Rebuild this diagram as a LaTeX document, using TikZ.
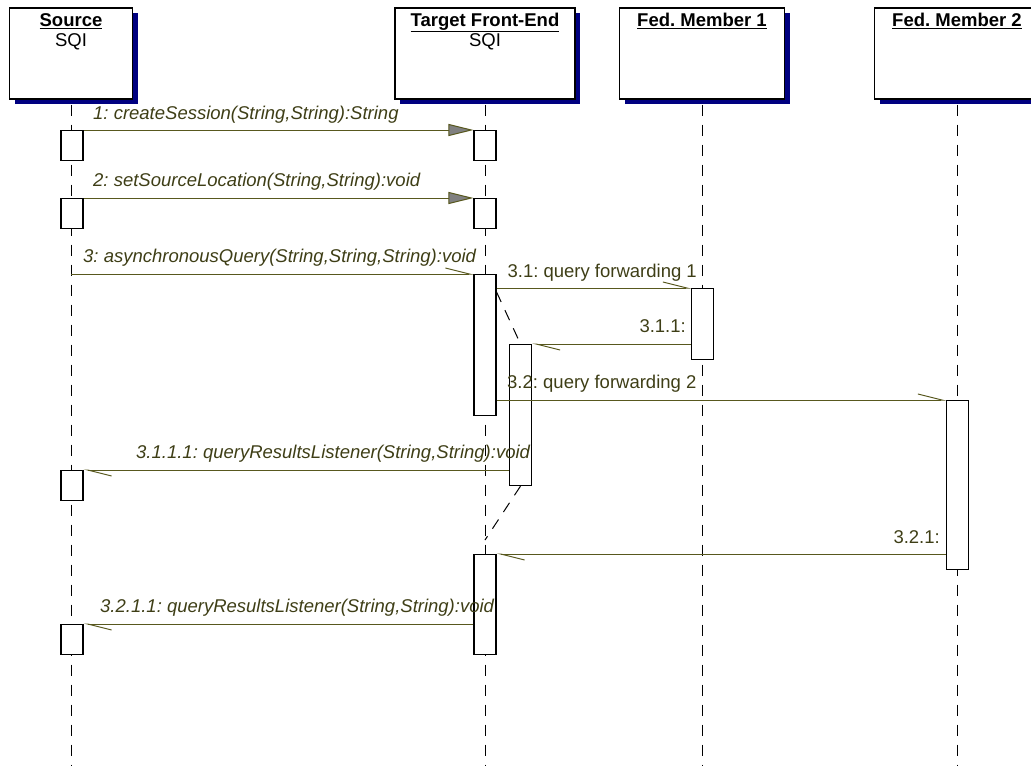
\documentclass[tikz,border=0pt]{standalone}
\usepackage{fontspec}
\setmainfont{Liberation Sans}
\usepackage{tikz}
\usetikzlibrary{arrows.meta}
\usetikzlibrary{shadows}
\definecolor{msgline}{RGB}{88,88,30}
\definecolor{msgtext}{RGB}{62,62,22}
\definecolor{shadownavy}{RGB}{0,0,128}
\definecolor{tipgray}{RGB}{128,128,128}
\newcommand{\umlfont}{\fontsize{18.5}{22}\selectfont}
\frenchspacing

\begin{document}
\begin{tikzpicture}[x=1pt,y=-1pt,
	obj/.style={rectangle, draw, line width=1.4pt, fill=white, minimum height=91pt, inner sep=0pt,
		drop shadow={shadow xshift=5pt, shadow yshift=-5pt, fill=shadownavy, opacity=1}},
	act/.style={rectangle, draw, line width=1.1pt, fill=white, minimum width=22pt, inner sep=0pt, anchor=north},
	life/.style={line width=1pt, dash pattern=on 11pt off 9pt},
	sync/.style={msgline, line width=1pt, -{Triangle[length=25pt,width=12pt,fill=tipgray]}},
	async/.style={msgline, line width=1pt, -{Straight Barb[left,length=24pt,width=12pt]}},
	hdr/.style={anchor=base, inner sep=0pt, font=\umlfont},
	lbl/.style={anchor=base west, inner sep=0pt, text=msgtext, font=\umlfont\itshape},
	rlbl/.style={anchor=base east, inner sep=0pt, text=msgtext, font=\umlfont}]
	\useasboundingbox (0,0) rectangle (1031,766);
	
	% Objects
	\node[obj, minimum width=123pt] (src) at (71,53.5) {};
	\node[obj, minimum width=180pt] (tfe) at (485,53.5) {};
	\node[obj, minimum width=165pt] (fm1) at (702,53.5) {};
	\node[obj, minimum width=165pt] (fm2) at (957,53.5) {};
	
	\node[hdr] (srcname) at ([yshift=-19pt]src.north) {\underline{\textbf{Source}}};
	\node[hdr] (srcsqi) at ([yshift=-39pt]src.north) {SQI};
	\node[hdr] (tfename) at ([yshift=-19pt]tfe.north) {\underline{\textbf{Target Front-End}}};
	\node[hdr] (tfesqi) at ([yshift=-39pt]tfe.north) {SQI};
	\node[hdr] (fm1name) at ([yshift=-19pt]fm1.north) {\underline{\textbf{Fed. Member 1}}};
	\node[hdr] (fm2name) at ([yshift=-19pt]fm2.north) {\underline{\textbf{Fed. Member 2}}};
	
	% Lifelines
	\coordinate (bottom) at (0,766);
	\draw[life] ([yshift=-5pt]src.south) -- (src.south |- bottom);
	\draw[life] ([yshift=-5pt]tfe.south) -- (tfe.south |- bottom);
	\draw[life] ([yshift=-5pt]fm1.south) -- (fm1.south |- bottom);
	\draw[life] ([yshift=-5pt]fm2.south) -- (fm2.south |- bottom);
	
	% Activations
	\node[act, minimum height=30pt] (s1) at (72,130) {};
	\node[act, minimum height=30pt] (t1) at (485,130) {};
	\node[act, minimum height=30pt] (s2) at (72,198) {};
	\node[act, minimum height=30pt] (t2) at (485,198) {};
	\node[act, minimum height=141pt] (t3) at (485,274) {};
	\node[act, minimum height=71pt] (f1) at (702.5,288) {};
	\node[act, minimum height=141pt] (t4) at (520.5,344) {};
	\node[act, minimum height=169pt] (f2) at (957.5,400) {};
	\node[act, minimum height=30pt] (s3) at (72,470) {};
	\node[act, minimum height=100pt] (t5) at (485,554) {};
	\node[act, minimum height=30pt] (s4) at (72,624) {};
	\coordinate (m3start) at (71,274);
	
	% Messages
	\draw[sync] (s1.north east) -- (t1.north west);
	\draw[sync] (s2.north east) -- (t2.north west);
	\draw[async] (m3start) -- (t3.north west);
	\draw[async] (t3.east |- f1.north) -- (f1.north west);
	\draw[async] (f1.west |- t4.north) -- (t4.north east);
	\draw[async] (t3.east |- f2.north) -- (f2.north west);
	\draw[async] (t4.west |- s3.north) -- (s3.north east);
	\draw[async] (f2.west |- t5.north) -- (t5.north east);
	\draw[async] (t5.west |- s4.north) -- (s4.north east);
	\draw[life] ([yshift=-18pt]t3.north east) -- (t4.north);
	\draw[life] (t4.south) -- ([yshift=14pt]t5.north);
	
	% Labels
	\node[lbl] (l1) at (93,119) {1: createSession(String,String):String};
	\node[lbl] (l2) at (93,186) {2: setSourceLocation(String,String):void};
	\node[lbl] (l3) at (83,262) {3: asynchronousQuery(String,String,String):void};
	\node[rlbl] (l31) at (697,277) {3.1: query forwarding 1};
	\node[rlbl] (l311) at (686,332) {3.1.1:};
	\node[lbl, font=\umlfont] (l32) at (507,388) {3.2: query forwarding 2};
	\node[lbl] (l3111) at (136,458) {3.1.1.1: queryResultsListener(String,String):void};
	\node[rlbl] (l321) at (940,543) {3.2.1:};
	\node[lbl] (l3211) at (100,612) {3.2.1.1: queryResultsListener(String,String):void};
\end{tikzpicture}
\end{document}
